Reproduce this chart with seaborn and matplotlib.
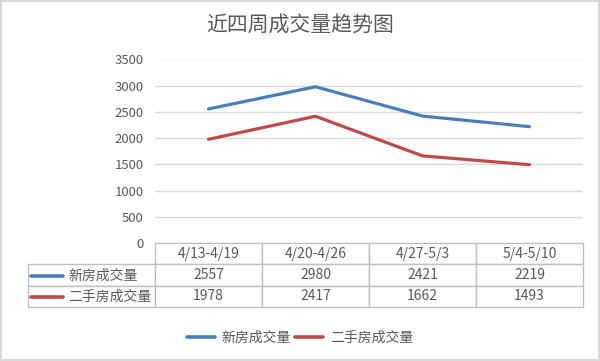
import pandas as pd
import matplotlib.pyplot as plt
import seaborn as sns
from matplotlib.lines import Line2D
from matplotlib.patches import Rectangle

# -------------------------
# DATA
# -------------------------
weeks = ['4/13-4/19', '4/20-4/26', '4/27-5/3', '5/4-5/10']
series_names = ['新房成交量', '二手房成交量']
new_house = [2557, 2980, 2421, 2219]
second_hand = [1978, 2417, 1662, 1493]
y_ticks = [0, 500, 1000, 1500, 2000, 2500, 3000, 3500]

colors = ['#4A7EBB', '#BE4B48']
text_gray = '#595959'

df = pd.DataFrame({
    'week': weeks * 2,
    'value': new_house + second_hand,
    'series': [series_names[0]] * 4 + [series_names[1]] * 4,
})

# -------------------------
# STYLE
# -------------------------
sns.set_theme(style="white")
plt.rcParams['font.family'] = ['Noto Sans CJK SC', 'DejaVu Sans']

W, H = 600, 361
fig = plt.figure(figsize=(6, 3.61), dpi=100)
fig.patches.append(Rectangle((0.002, 0.003), 0.996, 0.994, transform=fig.transFigure,
                             fill=False, edgecolor='#D9D9D9', linewidth=1.5))

left, right, top, bottom = 155, 583, 59.5, 243
ax = fig.add_axes([left / W, 1 - bottom / H, (right - left) / W, (bottom - top) / H])

sns.lineplot(data=df, x='week', y='value', hue='series', palette=colors,
             linewidth=2.3, sort=False, legend=False, ax=ax)

ax.set_xlim(-0.5, 3.5)
ax.set_ylim(0, 3500)
ax.set_yticks(y_ticks)
ax.set_yticklabels([str(t) for t in y_ticks], color=text_gray, fontsize=9.5)
ax.tick_params(axis='y', length=0, pad=8)
ax.set_xticks([])
ax.set_xlabel('')
ax.set_ylabel('')
ax.grid(axis='y', color='#D9D9D9', linewidth=1)
for s in ax.spines.values():
    s.set_visible(False)

# -------------------------
# DATA TABLE
# -------------------------
ax_h = bottom - top
label_w = (left - 28) / (right - left)
cell_text = [[''] + [str(v) for v in new_house], [''] + [str(v) for v in second_hand]]
tbl = ax.table(cellText=cell_text, colLabels=[''] + weeks,
               colWidths=[label_w] + [0.25] * 4, cellLoc='center',
               bbox=[-label_w, -(307 - bottom) / ax_h, 1 + label_w, (307 - bottom) / ax_h])
tbl.auto_set_font_size(False)
for (r, c), cell in tbl.get_celld().items():
    cell.set_edgecolor('#BFBFBF')
    cell.set_linewidth(1)
    cell.get_text().set_color(text_gray)
    cell.get_text().set_fontsize(10)
tbl[(0, 0)].set_visible(False)

row_y = [276, 297]
for i, name in enumerate(series_names):
    fig.add_artist(Line2D([31 / W, 63 / W], [1 - row_y[i] / H] * 2, color=colors[i],
                          linewidth=2.6))
    fig.text(68 / W, 1 - row_y[i] / H, name, ha='left', va='center',
             color=text_gray, fontsize=10)

# -------------------------
# TITLE + LEGEND
# -------------------------
fig.text(0.5, 1 - 25 / H, '近四周成交量趋势图', ha='center', va='center',
         color=text_gray, fontsize=15)

handles = [Line2D([], [], color=c, linewidth=2.6) for c in colors]
fig.legend(handles, series_names, loc='center', bbox_to_anchor=(0.5, 1 - 338 / H),
           ncol=2, frameon=False, handlelength=2.0, handletextpad=0.5,
           columnspacing=0.3, labelcolor=text_gray, fontsize=10)

fig.savefig("out.png", dpi=100)
